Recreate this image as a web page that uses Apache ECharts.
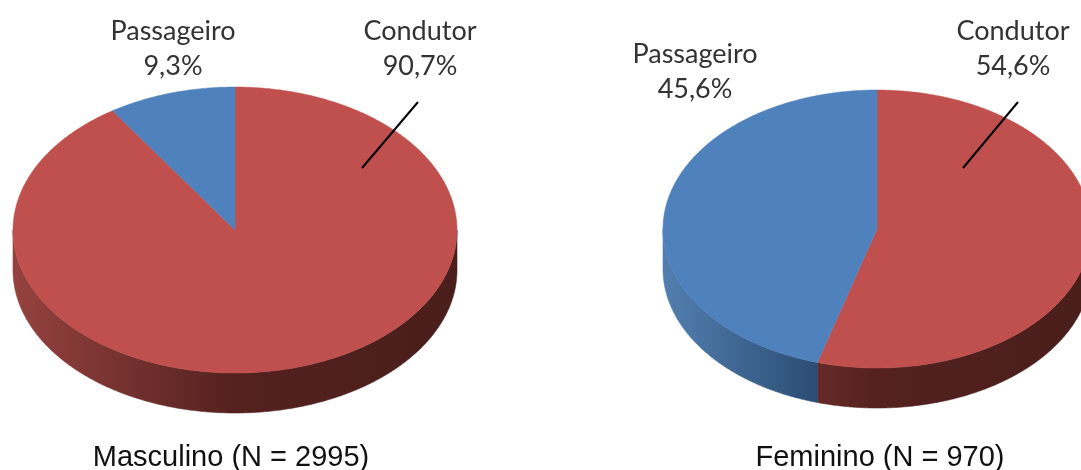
<!DOCTYPE html>
<html>
<head>
<meta charset="utf-8">
<style>
  html, body { margin: 0; padding: 0; background: #fff; }
  #chart { width: 1081px; height: 470px; }
</style>
<script src="https://cdn.jsdelivr.net/npm/echarts@6/dist/echarts.min.js"></script>
</head>
<body>
<div id="chart"></div>
<script>
// values
const groups = ['Masculino (N = 2995)', 'Feminino (N = 970)'];
const categories = ['Condutor', 'Passageiro'];
const condutor = [90.7, 54.6];
const passageiro = [9.3, 45.6];
const valueLabels = [['90,7%', '9,3%'], ['54,6%', '45,6%']];

// layout of the two tilted pies
const pies = [
  { cx: 235, cy: 230, rx: 222, ry: 143, depth: 40 },
  { cx: 877, cy: 229, rx: 214, ry: 139, depth: 40 }
];
const faceColors = ['#c0504d', '#4f81bd'];
const wallStops = [
  [{ offset: 0, color: '#95423f' }, { offset: 0.5, color: '#54211f' }, { offset: 1, color: '#491e1b' }],
  [{ offset: 0, color: '#527fb0' }, { offset: 0.37, color: '#2a4b72' }, { offset: 1, color: '#203a5a' }]
];

// one row per slice: pie index, category index, value before it, value, pie total
const sliceData = [];
groups.forEach((_, p) => {
  const total = condutor[p] + passageiro[p];
  sliceData.push([p, 0, 0, condutor[p], total]);
  sliceData.push([p, 1, condutor[p], passageiro[p], total]);
});

function rimPoint(pie, deg, drop) {
  const t = deg * Math.PI / 180;
  return [pie.cx + pie.rx * Math.sin(t), pie.cy + drop - pie.ry * Math.cos(t)];
}

function renderSlice(params, api) {
  const pie = pies[api.value(0)];
  const cat = api.value(1);
  const a0 = api.value(2) / api.value(4) * 360;
  const a1 = (api.value(2) + api.value(3)) / api.value(4) * 360;
  const children = [];

  // side wall: only the part of the rim on the front half
  const w0 = Math.max(a0, 90), w1 = Math.min(a1, 270);
  if (w1 > w0) {
    const pts = [];
    for (let d = w0; d < w1; d += 0.5) pts.push(rimPoint(pie, d, 0));
    pts.push(rimPoint(pie, w1, 0));
    for (let d = w1; d > w0; d -= 0.5) pts.push(rimPoint(pie, d, pie.depth));
    pts.push(rimPoint(pie, w0, pie.depth));
    const wallFill = new echarts.graphic.LinearGradient(pie.cx - pie.rx, 0, pie.cx + pie.rx, 0, wallStops[cat], true);
    children.push({
      type: 'polygon',
      shape: { points: pts },
      style: { fill: wallFill, stroke: wallFill, lineWidth: 0.6 }
    });
  }

  // top face
  const face = [[pie.cx, pie.cy]];
  for (let d = a0; d < a1; d += 0.5) face.push(rimPoint(pie, d, 0));
  face.push(rimPoint(pie, a1, 0));
  children.push({
    type: 'polygon',
    shape: { points: face },
    style: { fill: faceColors[cat], stroke: faceColors[cat], lineWidth: 0.5 }
  });
  return { type: 'group', children: children };
}

function label(text, x, y) {
  return {
    type: 'text', x: x, y: y, silent: true,
    style: {
      text: text, fill: '#333', align: 'center', verticalAlign: 'middle',
      font: '27px Lato, sans-serif'
    }
  };
}
function caption(text, x) {
  return {
    type: 'text', x: x, y: 458, silent: true,
    style: {
      text: text, fill: '#111', align: 'center', verticalAlign: 'middle',
      font: '29px "Liberation Sans", sans-serif'
    }
  };
}
function leader(x1, y1, x2, y2) {
  return {
    type: 'line', silent: true, z: 10,
    shape: { x1: x1, y1: y1, x2: x2, y2: y2 },
    style: { stroke: '#000', lineWidth: 2 }
  };
}

const chart = echarts.init(document.getElementById('chart'), null, { renderer: 'canvas' });
chart.setOption({
  backgroundColor: '#fff',
  animation: false,
  series: [{
    type: 'custom',
    coordinateSystem: 'none',
    renderItem: renderSlice,
    data: sliceData,
    silent: true
  }],
  graphic: [
    label(categories[1], 173, 31),
    label(valueLabels[0][1], 173, 66),
    label(categories[0], 420, 31),
    label(valueLabels[0][0], 420, 66),
    label(categories[1], 695, 54),
    label(valueLabels[1][1], 695, 89),
    label(categories[0], 1013, 31),
    label(valueLabels[1][0], 1013, 66),
    caption(groups[0], 231),
    caption(groups[1], 880),
    leader(418, 102, 362, 168),
    leader(1018, 102, 963, 168)
  ]
});
</script>
</body>
</html>
